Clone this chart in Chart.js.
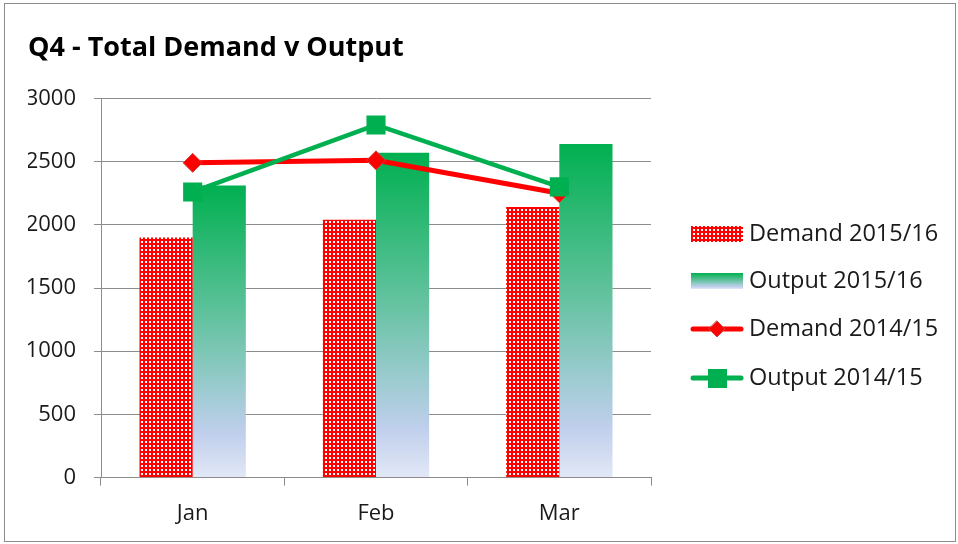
<!DOCTYPE html>
<html>
<head>
<meta charset="utf-8">
<script src="https://cdn.jsdelivr.net/npm/chart.js@4"></script>
<style>
  body { margin: 0; background: #fff; }
  #frame { position: absolute; left: 4px; top: 3px; width: 950px; height: 537px; border: 1px solid #8c8c8c; }
  #wrap { position: absolute; left: 0; top: 0; width: 958px; height: 544px; }
</style>
</head>
<body>
<div id="frame"></div>
<div id="wrap"><canvas id="chart" width="958" height="544"></canvas></div>
<script>
// chart data
const months = ['Jan', 'Feb', 'Mar'];
const demand1516 = [1900, 2040, 2140];
const output1516 = [2310, 2570, 2640];
const demand1415 = [2490, 2510, 2250];
const output1415 = [2260, 2790, 2300];
const yTicks = [0, 500, 1000, 1500, 2000, 2500, 3000];

// red/white checker pattern for demand bars
function checkerPattern() {
    const c = document.createElement('canvas');
    c.width = 4; c.height = 4;
    const g = c.getContext('2d');
    g.fillStyle = '#ff0000';
    g.fillRect(0, 0, 4, 4);
    g.fillStyle = '#ffffff';
    g.fillRect(1, 1, 2, 2);
    return g.createPattern(c, 'repeat');
}
const redPattern = checkerPattern();

function greenGradient(ctx, top, bottom) {
    const gr = ctx.createLinearGradient(0, top, 0, bottom);
    gr.addColorStop(0, '#00b050');
    gr.addColorStop(0.45, '#62c29e');
    gr.addColorStop(0.7, '#9ccbd0');
    gr.addColorStop(0.85, '#c0cfec');
    gr.addColorStop(1, '#e2e8f6');
    return gr;
}

const FONT = '"Open Sans", sans-serif';

// custom legend on the right
const sideLegend = {
    id: 'sideLegend',
    afterDraw(chart) {
        const ctx = chart.ctx;
        const x0 = 691, w = 52;
        const rows = [234, 281, 329, 378];
        const labels = ['Demand 2015/16', 'Output 2015/16', 'Demand 2014/15', 'Output 2014/15'];
        ctx.save();
        ctx.font = '23.5px ' + FONT;
        ctx.textBaseline = 'middle';
        rows.forEach((y, i) => {
            if (i === 0) {
                ctx.fillStyle = redPattern;
                ctx.fillRect(x0, y - 8, w, 16);
            } else if (i === 1) {
                ctx.fillStyle = greenGradient(ctx, y - 8, y + 8);
                ctx.fillRect(x0, y - 8, w, 16);
            } else {
                const col = i === 2 ? '#ff0000' : '#00b050';
                ctx.strokeStyle = col;
                ctx.lineWidth = 5;
                ctx.lineCap = 'round';
                ctx.beginPath();
                ctx.moveTo(x0 + 2, y);
                ctx.lineTo(x0 + w - 2, y);
                ctx.stroke();
                ctx.fillStyle = col;
                ctx.beginPath();
                if (i === 2) {
                    ctx.moveTo(x0 + 26, y - 8);
                    ctx.lineTo(x0 + 34, y);
                    ctx.lineTo(x0 + 26, y + 8);
                    ctx.lineTo(x0 + 18, y);
                    ctx.closePath();
                    ctx.fill();
                    ctx.strokeStyle = '#d04040';
                    ctx.lineWidth = 1;
                    ctx.stroke();
                } else {
                    ctx.fillRect(x0 + 17, y - 9, 19, 19);
                }
            }
            ctx.fillStyle = '#1a1a1a';
            ctx.fillText(labels[i], 749, y);
        });
        ctx.restore();
    }
};

new Chart(document.getElementById('chart'), {
    type: 'bar',
    data: {
        labels: months,
        datasets: [
            {
                type: 'line',
                label: 'Output 2014/15',
                data: output1415,
                borderColor: '#00b050',
                backgroundColor: '#00b050',
                borderWidth: 4.5,
                pointStyle: 'rect',
                pointRadius: 13.5,
                pointBorderWidth: 0,
                tension: 0,
                order: 0
            },
            {
                type: 'line',
                label: 'Demand 2014/15',
                data: demand1415,
                borderColor: '#ff0000',
                backgroundColor: '#ff0000',
                pointBorderColor: '#d04040',
                borderWidth: 5,
                pointStyle: 'rectRot',
                pointRadius: 9.5,
                pointBorderWidth: 1,
                tension: 0,
                order: 1
            },
            {
                label: 'Demand 2015/16',
                data: demand1516,
                backgroundColor: redPattern,
                borderWidth: 0,
                order: 2
            },
            {
                label: 'Output 2015/16',
                data: output1516,
                backgroundColor: (c) => {
                    const chart = c.chart;
                    if (!chart.chartArea || !chart.scales.y) return '#00b050';
                    const v = output1516[c.dataIndex];
                    const top = chart.scales.y.getPixelForValue(v);
                    const bottom = chart.scales.y.getPixelForValue(0);
                    return greenGradient(chart.ctx, top, bottom);
                },
                borderWidth: 0,
                order: 2
            }
        ]
    },
    options: {
        responsive: false,
        animation: false,
        maintainAspectRatio: false,
        datasets: { bar: { categoryPercentage: 0.58, barPercentage: 1 } },
        layout: { padding: { left: 28, right: 307, top: 16, bottom: 2 } },
        plugins: {
            legend: { display: false },
            tooltip: { enabled: false },
            title: {
                display: true,
                text: 'Q4 - Total Demand v Output',
                align: 'start',
                color: '#000',
                font: { family: FONT, size: 27, weight: 'bold' },
                padding: { top: 16, bottom: 34 }
            }
        },
        scales: {
            x: {
                grid: { display: true, drawOnChartArea: false, drawTicks: true, tickLength: 8, color: '#8c8c8c', lineWidth: 1 },
                border: { display: true, color: '#8c8c8c', width: 1 },
                ticks: { color: '#1a1a1a', font: { family: FONT, size: 22 }, padding: 15 }
            },
            y: {
                min: 0,
                max: 3000,
                afterBuildTicks: (axis) => { axis.ticks = yTicks.map(v => ({ value: v })); },
                afterFit: (axis) => { axis.width = 73; },
                grid: { color: '#8c8c8c', lineWidth: 1, tickLength: 7 },
                border: { display: true, color: '#8c8c8c', width: 1 },
                ticks: {
                    color: '#1a1a1a',
                    font: { family: FONT, size: 22 },
                    padding: 18,
                    callback: (v) => String(v)
                }
            }
        }
    },
    plugins: [sideLegend]
});
</script>
</body>
</html>
